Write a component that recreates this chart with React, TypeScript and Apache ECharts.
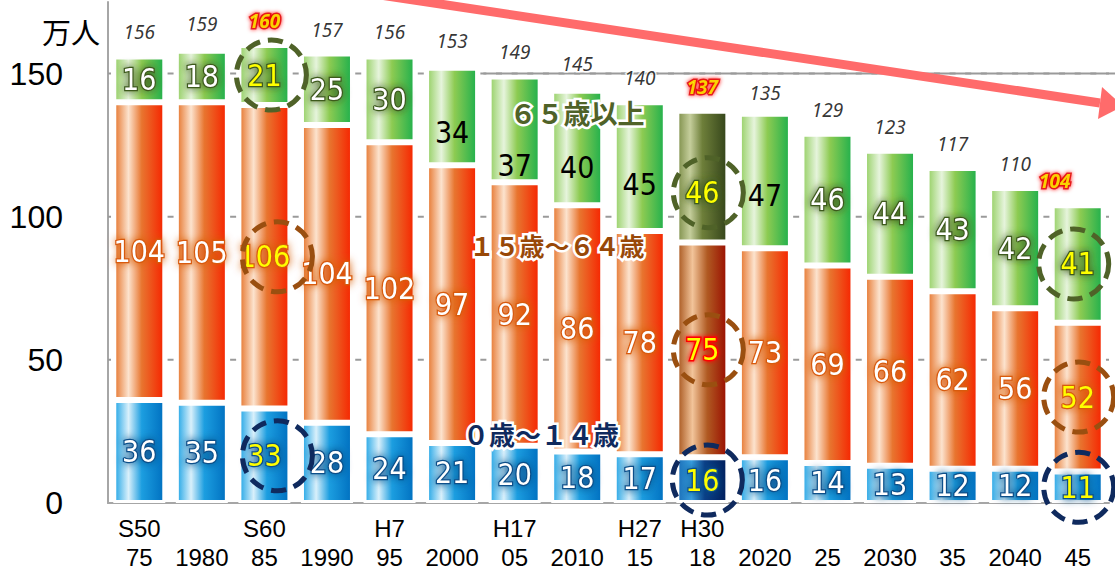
import React, { useEffect, useRef } from "react";
import * as echarts from "echarts";

// ---- data ----
const eraLabels = ["S50", "", "S60", "", "H7", "", "H17", "", "H27", "H30", "", "", "", "", "", ""];
const yearLabels = ["75", "1980", "85", "1990", "95", "2000", "05", "2010", "15", "18", "2020", "25", "2030", "35", "2040", "45"];
const age0to14 = [36, 35, 33, 28, 24, 21, 20, 18, 17, 16, 16, 14, 13, 12, 12, 11];
const age15to64 = [104, 105, 106, 104, 102, 97, 92, 86, 78, 75, 73, 69, 66, 62, 56, 52];
const age65plus = [16, 18, 21, 25, 30, 34, 37, 40, 45, 46, 47, 46, 44, 43, 42, 41];
const totals = [156, 159, 160, 157, 156, 153, 149, 145, 140, 137, 135, 129, 123, 117, 110, 104];
const yTicks = [0, 50, 100, 150];
const unitLabel = "万人";
const legend65 = "６５歳以上";
const legend15 = "１５歳～６４歳";
const legend0 = "０歳～１４歳";

// ---- styling helpers ----
const HL = [2, 9, 15];
const DARK = 9;
const numFont = "'Liberation Sans Narrow','DejaVu Sans Condensed','Roboto',sans-serif";
const axisFont = "'Liberation Sans',Arial,sans-serif";
const cjkFont = "'Noto Sans CJK JP','Noto Sans',sans-serif";

const lg = (stops: [number, string][]) =>
  new echarts.graphic.LinearGradient(0, 0, 1, 0, stops.map(([offset, color]) => ({ offset, color })));

const blueGrad = lg([[0, "#22A6E6"], [0.28, "#D9F0FB"], [0.55, "#1C9EE0"], [1, "#0070C0"]]);
const orangeGrad = lg([[0, "#E6762E"], [0.28, "#FCE3CE"], [0.55, "#E8752F"], [1, "#F62400"]]);
const greenGrad = lg([[0, "#96D065"], [0.28, "#E6F4DC"], [0.55, "#8DCB52"], [1, "#20B04C"]]);
const blueDark = lg([[0, "#1B70B8"], [0.28, "#3AA0E0"], [0.55, "#0B3F86"], [1, "#001F5C"]]);
const orangeDark = lg([[0, "#A8561E"], [0.3, "#F2C49A"], [0.6, "#B05A22"], [1, "#9A0E00"]]);
const greenDark = lg([[0, "#7E8F4A"], [0.25, "#C5CE9C"], [0.5, "#6E7F3A"], [1, "#34441A"]]);

const greenShift: Record<number, number> = { 5: 16, 6: 36, 7: 19, 8: 18, 9: 16, 10: 15 };
const greenBlack = [5, 6, 7, 8, 10];

const glow = (c: string) => ({
  color: "#fff",
  textBorderColor: c,
  textBorderWidth: 2.5,
  textShadowColor: c,
  textShadowBlur: 8,
});

const barLabelBase = {
  show: true,
  position: "inside" as const,
  fontSize: 30,
  fontFamily: numFont,
};

function buildOption() {
  const categories = yearLabels.map((y, i) => `${eraLabels[i]}\n${y}`);

  const blueData = age0to14.map((v, i) => ({
    value: v,
    itemStyle: i === DARK ? { color: blueDark } : undefined,
    label: HL.includes(i) ? { color: "#FFFF00" } : undefined,
  }));
  const orangeData = age15to64.map((v, i) => ({
    value: v,
    itemStyle: i === DARK ? { color: orangeDark } : undefined,
    label:
      i === DARK
        ? { color: "#FFFF00", textBorderColor: "#FF0000", textBorderWidth: 3, textShadowColor: "#FF0000", textShadowBlur: 5 }
        : HL.includes(i)
        ? { color: "#FFFF00" }
        : undefined,
  }));
  const greenData = age65plus.map((v, i) => {
    const lab: any = {};
    if (greenShift[i]) lab.offset = [0, greenShift[i]];
    if (HL.includes(i)) lab.color = "#FFFF00";
    if (greenBlack.includes(i)) {
      lab.color = "#000";
      lab.textBorderWidth = 0;
      lab.textShadowBlur = 0;
    }
    return { value: v, itemStyle: i === DARK ? { color: greenDark } : undefined, label: lab };
  });

  const totalData = totals.map((v, i) => ({
    value: [i, v],
    label: HL.includes(i)
      ? {
          color: "#FFFF00",
          fontWeight: "bold",
          textBorderColor: "#E00000",
          textBorderWidth: 3,
          textShadowColor: "#FF0000",
          textShadowBlur: 4,
          offset: i === 15 ? [-23, 0] : [0, 0],
        }
      : undefined,
  }));

  const mid = (i: number, layer: number) => {
    const b = age0to14[i], o = age15to64[i], g = age65plus[i];
    if (layer === 0) return b / 2;
    if (layer === 1) return b + o / 2;
    return b + o + g / 2;
  };
  const circleX: Record<number, number[]> = { 2: [13, 13, 7], 9: [5, 6, 6], 15: [1, 1, -4] };
  const circleSeries = (layer: number, color: string) => ({
    type: "scatter",
    silent: true,
    z: 6,
    symbol: "circle",
    symbolSize: 70,
    itemStyle: { color: "rgba(0,0,0,0)", opacity: 1, borderColor: color, borderWidth: 5, borderType: [15, 8] },
    data: HL.map((i) => ({
      value: [i, mid(i, layer)],
      symbolOffset: [circleX[i][layer], layer === 2 && greenShift[i] ? greenShift[i] : 0],
    })),
  });

  const barCommon = {
    type: "bar",
    stack: "pop",
    barWidth: 52,
    silent: true,
    z: 2,
  };

  return {
    animation: false,
    grid: { left: 108, right: 6, top: 2, bottom: 69, containLabel: false, outerBoundsMode: "none" },
    xAxis: {
      type: "category",
      data: categories,
      axisLine: { show: true, lineStyle: { color: "#A6A6A6", width: 2 } },
      axisTick: { show: false },
      axisLabel: {
        interval: 0,
        fontSize: 24,
        lineHeight: 29,
        margin: 11,
        color: "#000",
        fontFamily: axisFont,
      },
    },
    yAxis: {
      type: "value",
      min: 0,
      max: 175,
      interval: 50,
      axisLine: { show: true, lineStyle: { color: "#A6A6A6", width: 2 } },
      axisTick: { show: false },
      splitLine: { show: false },
      axisLabel: {
        fontSize: 32,
        color: "#000",
        margin: 45,
        fontFamily: axisFont,
        formatter: (v: number) => (yTicks.includes(v) ? String(v) : ""),
      },
    },
    series: [
      {
        ...barCommon,
        name: legend0,
        data: blueData,
        itemStyle: { color: blueGrad, borderColor: "#fff", borderWidth: 3 },
        label: { ...barLabelBase, ...glow("#0B4F8A") },
      },
      {
        ...barCommon,
        name: legend15,
        data: orangeData,
        itemStyle: { color: orangeGrad, borderColor: "#fff", borderWidth: 3 },
        label: { ...barLabelBase, ...glow("#D85A10") },
      },
      {
        ...barCommon,
        name: legend65,
        data: greenData,
        itemStyle: { color: greenGrad, borderColor: "#fff", borderWidth: 3 },
        label: { ...barLabelBase, ...glow("#3E5A1E") },
      },
      {
        type: "scatter",
        silent: true,
        z: 7,
        symbolSize: 1,
        itemStyle: { color: "rgba(0,0,0,0)" },
        data: totalData,
        label: {
          show: true,
          position: "top",
          distance: 14,
          fontSize: 19,
          fontStyle: "italic",
          fontFamily: "'Noto Sans',sans-serif",
          color: "#000",
          textBorderColor: "#fff",
          textBorderWidth: 3,
          formatter: (p: any) => String(p.value[1]),
        },
      },
      circleSeries(2, "#4F6228"),
      circleSeries(1, "#9A4F10"),
      circleSeries(0, "#0F2A5E"),
    ],
  };
}

export default function App() {
  const ref = useRef<HTMLDivElement>(null);
  useEffect(() => {
    document.body.style.margin = "0";
    const chart = echarts.init(ref.current!, null, { renderer: "svg" });
    chart.setOption(buildOption() as any);

    const yPx = (v: number) => chart.convertToPixel({ yAxisIndex: 0 }, v) as number;
    const xPx = (i: number) => chart.convertToPixel({ xAxisIndex: 0 }, i) as number;
    const left = xPx(0) - (xPx(1) - xPx(0)) / 2;
    const right = xPx(15) + (xPx(1) - xPx(0)) / 2;
    const solidStart = (xPx(5) + xPx(6)) / 2;

    const gridLines = yTicks
      .filter((v) => v > 0)
      .map((v) => ({
        type: "line",
        z: 1,
        silent: true,
        shape: { x1: left, y1: yPx(v), x2: right, y2: yPx(v) },
        style: { stroke: "#9A9A9A", lineWidth: 2, lineDash: [6, 9.64], lineDashOffset: 3 },
      }));

    const textEl = (text: string, x: number, y: number, size: number, color: string) => ({
      type: "text",
      z: 20,
      silent: true,
      x,
      y,
      style: {
        text,
        fill: color,
        font: `bold ${size}px ${cjkFont}`,
        align: "center",
        verticalAlign: "middle",
        stroke: "#fff",
        lineWidth: 5,
        shadowColor: "#fff",
        shadowBlur: 6,
      },
    });

    chart.setOption({
      graphic: [
        ...gridLines,
        {
          type: "line",
          z: 1,
          silent: true,
          shape: { x1: solidStart, y1: yPx(150), x2: 1115, y2: yPx(150) },
          style: { stroke: "#9A9A9A", lineWidth: 2 },
        },
        {
          type: "text",
          z: 20,
          x: 71,
          y: 31,
          style: { text: unitLabel, fill: "#000", font: `29px ${cjkFont}`, align: "center", verticalAlign: "middle" },
        },
        textEl(legend65, 577, 112, 27, "#4F6228"),
        textEl(legend15, 557, 245, 25, "#984807"),
        textEl(legend0, 541, 433, 26, "#0F2A5E"),
        {
          type: "line",
          z: 30,
          silent: true,
          shape: { x1: 380, y1: -5, x2: 1100, y2: 103 },
          style: { stroke: "#FF6B6B", lineWidth: 9 },
        },
        {
          type: "polygon",
          z: 30,
          silent: true,
          shape: { points: [[1102, 87], [1123, 106], [1098, 119]] },
          style: { fill: "#FF6B6B" },
        },
      ],
    } as any);

    return () => chart.dispose();
  }, []);
  return <div ref={ref} style={{ position: "absolute", left: 0, top: 0, width: 1115, height: 572 }} />;
}
